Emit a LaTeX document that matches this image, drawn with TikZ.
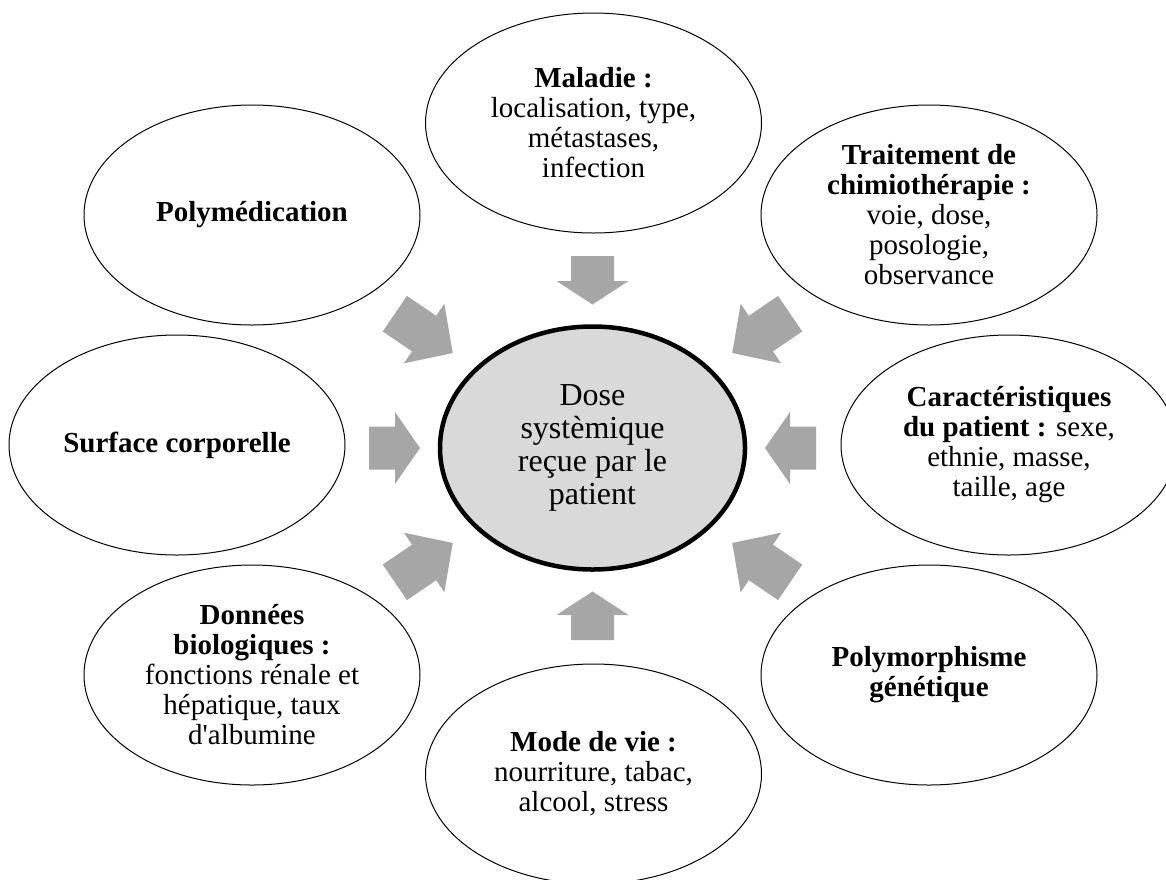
\documentclass[tikz,border=0pt]{standalone}
\usepackage{fontspec}
\setmainfont{Liberation Serif}
\usetikzlibrary{shapes.geometric}
\definecolor{arrowgray}{HTML}{A6A6A6}
\definecolor{centergray}{HTML}{D9D9D9}
% block arrow pointing to the centre node: #1 direction (outward), #2 tip distance, #3 length, #4 head length
\newcommand\blkarrow[4]{%
  \begin{scope}[shift={(c.center)}, rotate=#1]
    \fill[arrowgray] (#2,0) -- (#2+#4,36) -- (#2+#4,21.5) -- (#2+#3,21.5)
      -- (#2+#3,-21.5) -- (#2+#4,-21.5) -- (#2+#4,-36) -- cycle;
  \end{scope}}
\begin{document}
\begin{tikzpicture}[x=1pt,y=1pt,
  outer/.style={ellipse, draw=black, line width=1pt, fill=white,
    minimum width=336pt, minimum height=220pt, inner sep=0pt,
    align=center, font=\fontsize{29}{30}\selectfont},
  core/.style={ellipse, draw=black, line width=4.5pt, fill=centergray,
    minimum width=305pt, minimum height=243pt, inner sep=0pt,
    align=center, font=\fontsize{32}{33}\selectfont}]
\useasboundingbox[fill=white] (0,0) rectangle (1166,-879);

\node[core] (c) at (592.5,-448) {Dose\\systèmique\\reçue par le\\patient};

\node[outer] (mal) at (593.5,-123) {\textbf{Maladie :}\\localisation, type,\\métastases,\\infection};
\node[outer] (poly) at (252,-215) {\textbf{Polymédication}};
\node[outer] (trait) at (929,-215) {\textbf{Traitement de}\\\textbf{chimiothérapie :}\\voie, dose,\\posologie,\\observance};
\node[outer] (surf) at (177,-445) {\textbf{Surface corporelle}};
\node[outer] (carac) at (1009,-445) {\textbf{Caractéristiques}\\\textbf{du patient :} sexe,\\ethnie, masse,\\taille, age};
\node[outer] (donn) at (252,-675) {\textbf{Données}\\\textbf{biologiques :}\\fonctions rénale et\\hépatique, taux\\d\textquotesingle albumine};
\node[outer] (gen) at (929,-675) {\textbf{Polymorphisme}\\\textbf{génétique}};
\node[outer] (vie) at (593.5,-774) {\textbf{Mode de vie :}\\nourriture, tabac,\\alcool, stress};

\blkarrow{90}{143.5}{48.5}{23.5}
\blkarrow{270}{143.5}{48.5}{23.5}
\blkarrow{180}{172.5}{51}{25}
\blkarrow{0}{172.5}{51}{25}
\blkarrow{145.8}{169}{70}{34.6}
\blkarrow{34.2}{169}{70}{34.6}
\blkarrow{214.2}{169}{70}{34.6}
\blkarrow{325.8}{169}{70}{34.6}
\end{tikzpicture}
\end{document}
